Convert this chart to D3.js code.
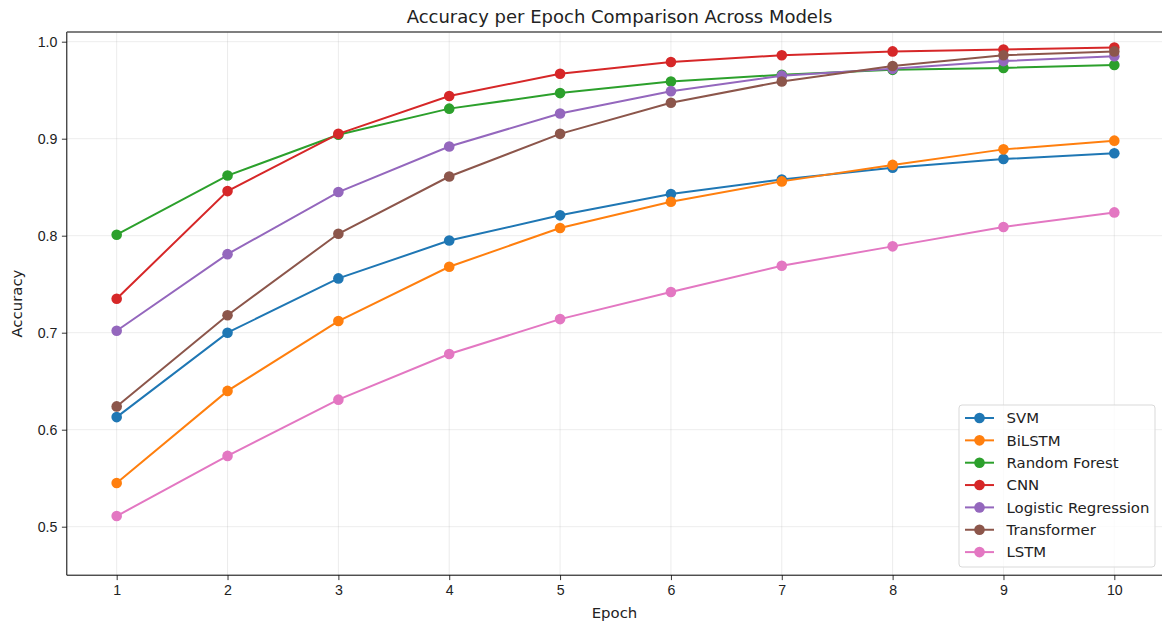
<!DOCTYPE html>
<html lang="en">
<head>
  <meta charset="utf-8">
  <title>Accuracy per Epoch Comparison Across Models</title>
  <style>
    html,body{margin:0;background:#fff}
    svg{display:block;font-family:"DejaVu Sans",sans-serif}
    .grid line{stroke:#b0b0b0;stroke-opacity:.3;stroke-width:0.8}
    .axis text{font-size:14.2px;fill:#222}
    .axis path,.axis line{stroke:#000;stroke-width:0.8}
  </style>
  <script src="https://d3js.org/d3.v7.min.js"></script>
</head>
<body>
<svg id="chart" width="1162" height="624"></svg>
<script>
  // epochs and accuracy per model
  const epochs=[1,2,3,4,5,6,7,8,9,10];
  const models=['SVM','BiLSTM','Random Forest','CNN','Logistic Regression','Transformer','LSTM'];
  const svmAcc        =[0.613,0.700,0.756,0.795,0.821,0.843,0.858,0.870,0.879,0.885];
  const bilstmAcc     =[0.545,0.640,0.712,0.768,0.808,0.835,0.856,0.873,0.889,0.898];
  const rfAcc         =[0.801,0.862,0.904,0.931,0.947,0.959,0.966,0.971,0.973,0.976];
  const cnnAcc        =[0.735,0.846,0.905,0.944,0.967,0.979,0.986,0.990,0.992,0.994];
  const logregAcc     =[0.702,0.781,0.845,0.892,0.926,0.949,0.965,0.972,0.980,0.985];
  const transformerAcc=[0.624,0.718,0.802,0.861,0.905,0.937,0.959,0.975,0.986,0.990];
  const lstmAcc       =[0.511,0.573,0.631,0.678,0.714,0.742,0.769,0.789,0.809,0.824];
  const yTicks=[0.5,0.6,0.7,0.8,0.9,1.0];

  const series=[svmAcc,bilstmAcc,rfAcc,cnnAcc,logregAcc,transformerAcc,lstmAcc];
  const colors=['#1f77b4','#ff7f0e','#2ca02c','#d62728','#9467bd','#8c564b','#e377c2'];

  const svg=d3.select('#chart');
  const m={left:66.8,top:32,right:1164.2,bottom:575.2};

  const x=d3.scaleLinear().domain([0.55,10.45]).range([m.left,m.right]);
  const y=d3.scaleLinear().domain([0.45,1.01]).range([m.bottom,m.top]);

  svg.append('defs').append('clipPath').attr('id','clip')
     .append('rect').attr('x',m.left).attr('y',m.top).attr('width',m.right-m.left).attr('height',m.bottom-m.top);

  // grid
  const grid=svg.append('g').attr('class','grid');
  grid.selectAll('.gx').data(epochs).enter().append('line')
      .attr('x1',d=>x(d)).attr('x2',d=>x(d)).attr('y1',m.top).attr('y2',m.bottom);
  grid.selectAll('.gy').data(yTicks).enter().append('line')
      .attr('x1',m.left).attr('x2',m.right).attr('y1',d=>y(d)).attr('y2',d=>y(d));

  // lines + markers
  const plot=svg.append('g').attr('clip-path','url(#clip)');
  const line=d3.line().x((d,i)=>x(epochs[i])).y(d=>y(d));
  series.forEach((s,k)=>{
    const g=plot.append('g');
    g.append('path').datum(s).attr('d',line).attr('fill','none')
     .attr('stroke',colors[k]).attr('stroke-width',2);
    g.selectAll('circle').data(s).enter().append('circle')
     .attr('cx',(d,i)=>x(epochs[i])).attr('cy',d=>y(d)).attr('r',5.3).attr('fill',colors[k]);
  });

  // axes
  const xAxis=svg.append('g').attr('class','axis').attr('transform',`translate(0,${m.bottom})`)
     .call(d3.axisBottom(x).tickValues(epochs).tickSize(4.9).tickPadding(4.5).tickFormat(d3.format('d')));
  xAxis.select('.domain').remove();
  const yAxis=svg.append('g').attr('class','axis').attr('transform',`translate(${m.left},0)`)
     .call(d3.axisLeft(y).tickValues(yTicks).tickSize(4.9).tickPadding(4.5).tickFormat(d3.format('.1f')));
  yAxis.select('.domain').remove();

  // spines
  svg.append('line').attr('x1',m.left).attr('x2',m.left).attr('y1',m.top).attr('y2',m.bottom).attr('stroke','#000').attr('stroke-width',1);
  svg.append('line').attr('x1',m.left).attr('x2',1162).attr('y1',m.bottom).attr('y2',m.bottom).attr('stroke','#000').attr('stroke-width',1);
  svg.append('line').attr('x1',m.left).attr('x2',1162).attr('y1',m.top).attr('y2',m.top).attr('stroke','#555').attr('stroke-width',1.4);

  // titles
  svg.append('text').attr('x',619.5).attr('y',22.5).attr('text-anchor','middle')
     .attr('font-size','18px').attr('fill','#222').text('Accuracy per Epoch Comparison Across Models');
  svg.append('text').attr('x',614.5).attr('y',617.5).attr('text-anchor','middle')
     .attr('font-size','14.9px').attr('fill','#222').text('Epoch');
  svg.append('text').attr('transform',`translate(22,${(m.top+m.bottom)/2}) rotate(-90)`)
     .attr('text-anchor','middle').attr('font-size','14.9px').attr('fill','#222').text('Accuracy');

  // legend
  const lg=svg.append('g').attr('transform','translate(959,405)');
  lg.append('rect').attr('width',196).attr('height',162).attr('rx',3)
    .attr('fill','#fff').attr('fill-opacity',0.8).attr('stroke','#d9d9d9');
  models.forEach((name,k)=>{
    const yy=13+k*22.35;
    lg.append('line').attr('x1',6).attr('x2',35).attr('y1',yy).attr('y2',yy)
      .attr('stroke',colors[k]).attr('stroke-width',2);
    lg.append('circle').attr('cx',20.5).attr('cy',yy).attr('r',5.3).attr('fill',colors[k]);
    lg.append('text').attr('x',47.5).attr('y',yy+5.3).attr('font-size','14.9px').attr('fill','#222').text(name);
  });
</script>
</body>
</html>
